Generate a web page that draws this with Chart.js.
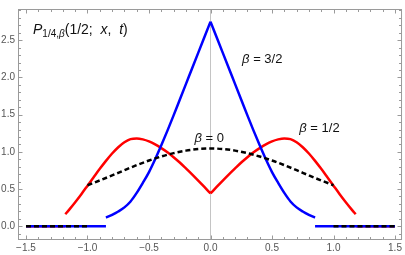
<!DOCTYPE html>
<html>
<head>
<meta charset="utf-8">
<script src="https://cdn.jsdelivr.net/npm/chart.js@4"></script>
<style>
  html, body { margin: 0; padding: 0; background: #fff; }
  canvas { display: block; }
</style>
</head>
<body>
<canvas id="myChart" width="405" height="255"></canvas>
<script>
// axis ticks
const xTicks = [-1.5, -1.0, -0.5, 0, 0.5, 1.0, 1.5];
const yTicks = [0, 0.5, 1.0, 1.5, 2.0, 2.5];

// beta = 3/2 (blue), zero outside |x| > blueEdge
const blueEdge = 0.85;
const blueX = [-0.85, -0.8, -0.75, -0.7, -0.65, -0.6, -0.55, -0.5, -0.45, -0.4, -0.35, -0.3, -0.25, -0.2, -0.15, -0.1, -0.05,
  0, 0.05, 0.1, 0.15, 0.2, 0.25, 0.3, 0.35, 0.4, 0.45, 0.5, 0.55, 0.6, 0.65, 0.7, 0.75, 0.8, 0.85];
const blueY = [0.115, 0.153, 0.198, 0.253, 0.333, 0.448, 0.583, 0.728, 0.90, 1.088, 1.285, 1.49, 1.70, 1.91, 2.12, 2.33, 2.54,
  2.75, 2.54, 2.33, 2.12, 1.91, 1.70, 1.49, 1.285, 1.088, 0.90, 0.728, 0.583, 0.448, 0.333, 0.253, 0.198, 0.153, 0.115];

// beta = 1/2 (red)
const redEdge = 1.18;
const redX = [-1.18, -1.15, -1.1, -1.05, -1.0, -0.95, -0.9, -0.85, -0.8, -0.75, -0.7, -0.65, -0.6, -0.55, -0.5, -0.45, -0.4,
  -0.35, -0.3, -0.25, -0.2, -0.15, -0.1, -0.05, 0, 0.05, 0.1, 0.15, 0.2, 0.25, 0.3, 0.35, 0.4, 0.45, 0.5, 0.55, 0.6, 0.65,
  0.7, 0.75, 0.8, 0.85, 0.9, 0.95, 1.0, 1.05, 1.1, 1.15, 1.18];
const redY = [0.16, 0.22, 0.323, 0.431, 0.544, 0.658, 0.771, 0.878, 0.977, 1.062, 1.128, 1.17, 1.18, 1.167, 1.14, 1.10, 1.05,
  0.994, 0.928, 0.856, 0.778, 0.698, 0.614, 0.528, 0.44, 0.528, 0.614, 0.698, 0.778, 0.856, 0.928, 0.994, 1.05, 1.10, 1.14, 1.167, 1.18, 1.17,
  1.128, 1.062, 0.977, 0.878, 0.771, 0.658, 0.544, 0.431, 0.323, 0.22, 0.16];

// beta = 0 (black dashed)
const blackEdge = 1.0;
const blackX = [-1.0, -0.9, -0.8, -0.7, -0.6, -0.5, -0.4, -0.3, -0.2, -0.1, 0, 0.1, 0.2, 0.3, 0.4, 0.5, 0.6, 0.7, 0.8, 0.9, 1.0];
const blackY = [0.551, 0.615, 0.683, 0.753, 0.821, 0.883, 0.937, 0.982, 1.016, 1.038, 1.045, 1.038, 1.016, 0.982, 0.937, 0.883, 0.821, 0.753, 0.683, 0.615, 0.551];

const xRange = [-1.565, 1.557];
const yRange = [-0.172, 2.92];

// curve plus the zero pieces on both sides, split by null gaps;
// cusp curves get a break at x = 0 so the smoothing keeps the corner
function buildSeries(xs, ys, edge, cusp) {
  const pts = [{ x: -1.5, y: 0 }, { x: -edge, y: 0 }, { x: -edge, y: null }];
  xs.forEach((x, i) => {
    pts.push({ x, y: ys[i] });
    if (cusp && x === 0) pts.push({ x: 0, y: null }, { x: 0, y: ys[i] });
  });
  pts.push({ x: edge, y: null }, { x: edge, y: 0 }, { x: 1.5, y: 0 });
  return pts;
}

function fmt(v) {
  return v.toFixed(1).replace('-', '\u2212');
}

const font = '"Liberation Sans", Arial, sans-serif';

function drawRuns(ctx, x, y, runs) {
  for (const [t, f, dy] of runs) {
    ctx.font = f;
    ctx.fillText(t, x, y + (dy || 0));
    x += ctx.measureText(t).width;
  }
}

const framePlugin = {
  id: 'frame',
  afterDraw(chart) {
    const { ctx, chartArea: a, scales: { x, y } } = chart;
    ctx.save();
    ctx.strokeStyle = '#9a9a9a';
    ctx.lineWidth = 1;
    ctx.strokeRect(a.left + 0.5, a.top + 0.5, a.right - a.left - 1, a.bottom - a.top);

    // inward ticks on all four sides
    ctx.beginPath();
    for (let i = -15; i <= 15; i++) {
      const px = Math.round(x.getPixelForValue(i / 10)) + 0.5;
      const len = i % 5 === 0 ? 4 : 2.5;
      ctx.moveTo(px, a.bottom + 0.5); ctx.lineTo(px, a.bottom + 0.5 - len);
      ctx.moveTo(px, a.top + 0.5); ctx.lineTo(px, a.top + 0.5 + len);
    }
    for (let i = -1; i <= 29; i++) {
      const py = Math.round(y.getPixelForValue(i / 10)) + 0.5;
      const len = i % 5 === 0 ? 4 : 2.5;
      ctx.moveTo(a.left + 0.5, py); ctx.lineTo(a.left + 0.5 + len, py);
      ctx.moveTo(a.right - 0.5, py); ctx.lineTo(a.right - 0.5 - len, py);
    }
    ctx.stroke();

    // annotations
    ctx.fillStyle = '#111';
    ctx.textBaseline = 'alphabetic';
    ctx.textAlign = 'left';
    const it = 'italic 14px ' + font, rm = '14px ' + font;
    drawRuns(ctx, x.getPixelForValue(-1.443), y.getPixelForValue(2.584), [
      ['P', it], ['1/4,', '10px ' + font, 3], ['\u03b2', 'italic 10px ' + font, 3],
      ['(1/2;  ', rm], ['x', it], [',  ', rm], ['t', it], [')', rm]
    ]);
    const bi = 'italic 13px ' + font, br = '13px ' + font;
    drawRuns(ctx, x.getPixelForValue(0.257), y.getPixelForValue(2.196), [['\u03b2', bi], [' = 3/2', br]]);
    drawRuns(ctx, x.getPixelForValue(-0.13), y.getPixelForValue(1.131), [['\u03b2', bi], [' = 0', br]]);
    drawRuns(ctx, x.getPixelForValue(0.722), y.getPixelForValue(1.26), [['\u03b2', bi], [' = 1/2', br]]);
    ctx.restore();
  }
};

const ctx = document.getElementById('myChart').getContext('2d');
new Chart(ctx, {
  type: 'scatter',
  data: {
    datasets: [
      {
        label: 'beta = 0',
        data: buildSeries(blackX, blackY, blackEdge, false),
        showLine: true, borderColor: '#000', borderWidth: 2.5, borderDash: [5, 3],
        pointRadius: 0, cubicInterpolationMode: 'monotone'
      },
      {
        label: 'beta = 3/2',
        data: buildSeries(blueX, blueY, blueEdge, true),
        showLine: true, borderColor: '#0000ff', borderWidth: 2.5,
        pointRadius: 0, cubicInterpolationMode: 'monotone'
      },
      {
        label: 'beta = 1/2',
        data: buildSeries(redX, redY, redEdge, true),
        showLine: true, borderColor: '#ff0000', borderWidth: 2.5,
        pointRadius: 0, cubicInterpolationMode: 'monotone'
      }
    ]
  },
  options: {
    responsive: false,
    animation: false,
    devicePixelRatio: 1,
    layout: { padding: { top: 0, right: 2, left: 0, bottom: 0 } },
    plugins: { legend: { display: false }, tooltip: { enabled: false } },
    scales: {
      x: {
        type: 'linear', min: xRange[0], max: xRange[1],
        afterBuildTicks: s => { s.ticks = xTicks.map(v => ({ value: v })); },
        afterFit: s => { s.height = 16; },
        grid: {
          drawTicks: false,
          color: c => (c.tick && c.tick.value === 0 ? '#c4c4c4' : 'rgba(0,0,0,0)')
        },
        border: { display: false },
        ticks: { padding: 3, color: '#555', font: { family: font, size: 10 }, maxRotation: 0, callback: v => fmt(v) }
      },
      y: {
        type: 'linear', min: yRange[0], max: yRange[1],
        afterBuildTicks: s => { s.ticks = yTicks.map(v => ({ value: v })); },
        afterFit: s => { s.width = 18; },
        grid: { display: false, drawTicks: false },
        border: { display: false },
        ticks: { padding: 3, color: '#555', font: { family: font, size: 10 }, callback: v => fmt(v) }
      }
    }
  },
  plugins: [framePlugin]
});
</script>
</body>
</html>
